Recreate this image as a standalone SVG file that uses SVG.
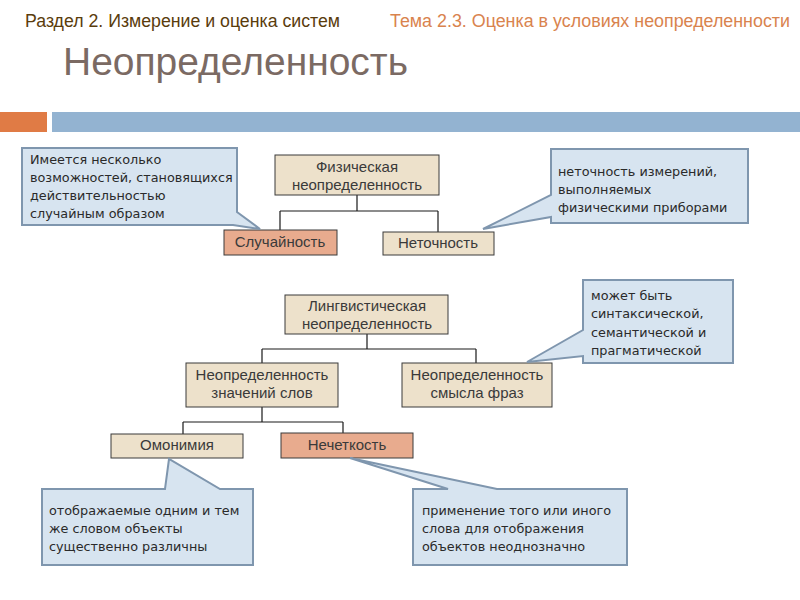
<svg xmlns="http://www.w3.org/2000/svg" width="800" height="600" viewBox="0 0 800 600">
<style>
.node rect{stroke:#3a3a3a;stroke-width:1}
.tan{fill:#ede1cb}
.sal{fill:#e8ab8e}
.nt{font-family:"Liberation Sans",Arial,sans-serif;font-size:15px;fill:#3a3a3a;text-anchor:middle}
.co path{fill:#d7e4f0;stroke:#7f96ae;stroke-width:2;stroke-linejoin:miter}
.ct{font-family:"DejaVu Sans",sans-serif;font-size:12.8px;fill:#2a2a2a}
.conn path{fill:none;stroke:#1a1a1a;stroke-width:1.2}
</style>
<rect width="800" height="600" fill="#ffffff"/>
<text x="25" y="27" font-family="'Liberation Sans',Arial,sans-serif" font-size="17.5" fill="#5a3c0c" textLength="315" lengthAdjust="spacingAndGlyphs">Раздел 2. Измерение и оценка систем</text>
<text x="390" y="27" font-family="'Liberation Sans',Arial,sans-serif" font-size="17.5" fill="#d9834e" textLength="400" lengthAdjust="spacingAndGlyphs">Тема 2.3. Оценка в условиях неопределенности</text>
<text x="63" y="75" font-family="'Liberation Sans',Arial,sans-serif" font-size="39" fill="#7b6a63" textLength="345" lengthAdjust="spacingAndGlyphs">Неопределенность</text>
<rect x="0" y="112" width="47" height="20" fill="#e07b45"/>
<rect x="52" y="112" width="748" height="20" fill="#93b3d1"/>

<g class="conn" id="connectors">
<path d="M357,195 V211 M280,211 H438 M280,211 V230 M438,211 V232"/>
<path d="M367,334 V349 M262,349 H476 M262,349 V363 M476,349 V363"/>
<path d="M262,407 V422 M183,422 H343 M183,422 V434 M343,422 V433"/>
</g>

<g class="node" id="phys">
<rect class="tan" x="275" y="155" width="164" height="40"/>
<text class="nt" x="357" y="172">Физическая</text>
<text class="nt" x="357" y="190">неопределенность</text>
</g>
<g class="node" id="sluch">
<rect class="sal" x="224" y="230" width="113" height="25"/>
<text class="nt" x="280" y="247">Случайность</text>
</g>
<g class="node" id="netoch">
<rect class="tan" x="383" y="232" width="111" height="23"/>
<text class="nt" x="438" y="248">Неточность</text>
</g>
<g class="node" id="ling">
<rect class="tan" x="285" y="295" width="163" height="39"/>
<text class="nt" x="367" y="311">Лингвистическая</text>
<text class="nt" x="367" y="329">неопределенность</text>
</g>
<g class="node" id="znach">
<rect class="tan" x="186" y="363" width="152" height="44"/>
<text class="nt" x="262" y="380">Неопределенность</text>
<text class="nt" x="262" y="398">значений слов</text>
</g>
<g class="node" id="smysl">
<rect class="tan" x="402" y="363" width="150" height="44"/>
<text class="nt" x="477" y="380">Неопределенность</text>
<text class="nt" x="477" y="398">смысла фраз</text>
</g>
<g class="node" id="omon">
<rect class="tan" x="111" y="434" width="132" height="24"/>
<text class="nt" x="177" y="450">Омонимия</text>
</g>
<g class="node" id="nechet">
<rect class="sal" x="281" y="433" width="132" height="25"/>
<text class="nt" x="347" y="450">Нечеткость</text>
</g>

<g class="co" id="callout1">
<path d="M22,148 H237 V212 L260,229 L233,225 H22 Z"/>
<text class="ct" x="30" y="164">Имеется несколько</text>
<text class="ct" x="30" y="182">возможностей, становящихся</text>
<text class="ct" x="30" y="200">действительностью</text>
<text class="ct" x="30" y="218">случайным образом</text>
</g>
<g class="co" id="callout2">
<path d="M551,149 H748 V223 H551 V217 L483,229 L551,195 Z"/>
<text class="ct" x="558" y="176">неточность измерений,</text>
<text class="ct" x="558" y="194">выполняемых</text>
<text class="ct" x="558" y="212">физическими приборами</text>
</g>
<g class="co" id="callout3">
<path d="M583,280 H733 V363 H583 V356 L527,362 L583,330 Z"/>
<text class="ct" x="591" y="300">может быть</text>
<text class="ct" x="591" y="318">синтаксической,</text>
<text class="ct" x="591" y="337">семантической и</text>
<text class="ct" x="591" y="355">прагматической</text>
</g>
<g class="co" id="callout4">
<path d="M42,489 H165 L169,459 L220,489 H253 V565 H42 Z"/>
<text class="ct" x="49" y="515">отображаемые одним и тем</text>
<text class="ct" x="49" y="533">же словом объекты</text>
<text class="ct" x="49" y="551">существенно различны</text>
</g>
<g class="co" id="callout5">
<path d="M413,489 H448 L350,458 L497,489 H627 V565 H413 Z"/>
<text class="ct" x="422" y="515">применение того или иного</text>
<text class="ct" x="422" y="533">слова для отображения</text>
<text class="ct" x="422" y="551">объектов неоднозначно</text>
</g>
</svg>
